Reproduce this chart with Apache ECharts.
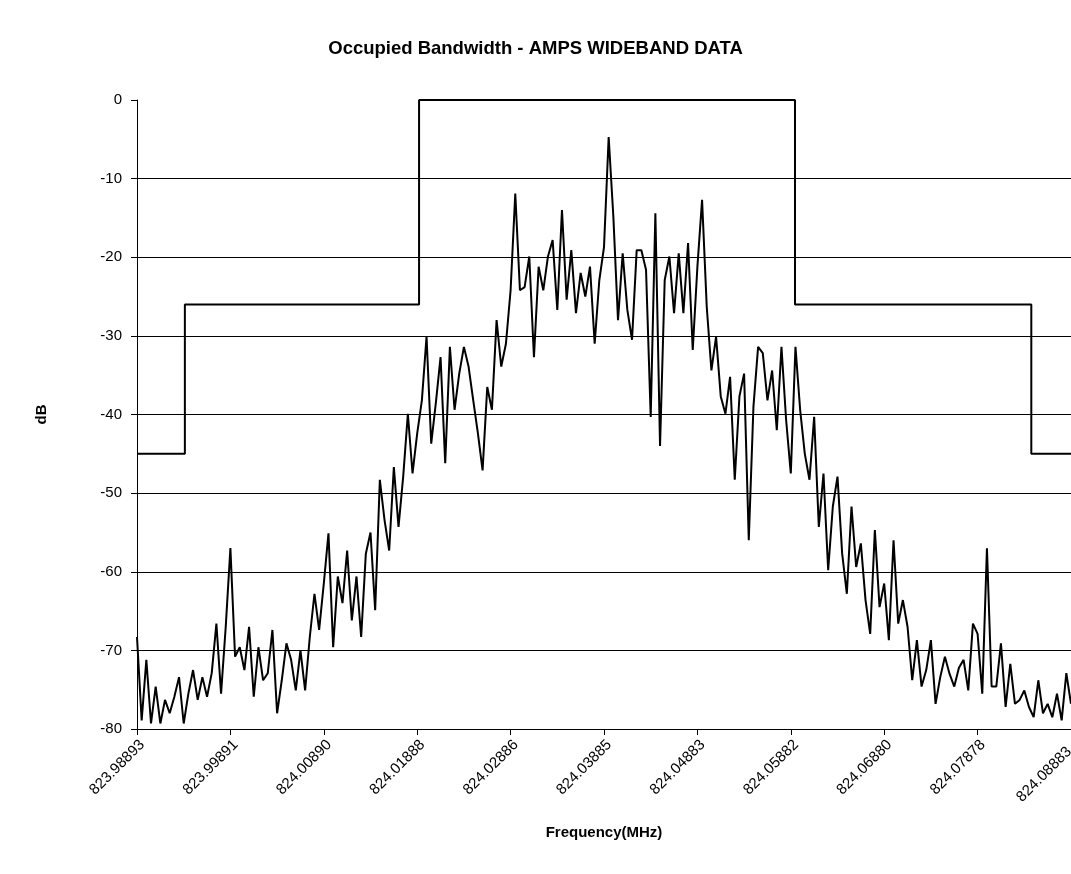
<!DOCTYPE html>
<html>
<head>
<meta charset="utf-8">
<script src="https://cdn.jsdelivr.net/npm/echarts@6/dist/echarts.min.js"></script>
<style>
html,body{margin:0;padding:0;background:#fff;}
#chart{width:1071px;height:874px;}
</style>
</head>
<body>
<div id="chart"></div>
<script>
// Frequency tick labels (every 40 sample points, 401 points total)
const tickLabels = ["823.98893","823.99891","824.00890","824.01888","824.02886","824.03885","824.04883","824.05882","824.06880","824.07878","824.08883"];
const SAMPLE_STEP = 2;   // noise values read every 2 sample points
// Measured spectrum (dB), sample points 0,2,4,...,400
const spectrum = [
 -68.3,-78.9,-71.2,-79.3,-74.6,-79.3,-76.3,-78,-75.9,-73.4,-79.3,-75.5,-72.5,-76.3,-73.4,-75.9,-72.9,
 -66.6,-75.5,-67,-57,-70.8,-69.6,-72.5,-67,-75.9,-69.6,-73.8,-72.9,-67.4,-78,-73.8,-69.1,-71.2,
 -75.1,-70,-75.1,-68.3,-62.8,-67.4,-61.5,-55.1,-69.6,-60.6,-64,-57.3,-66.2,-60.6,-68.3,-57.7,-55,
 -64.9,-48.3,-53.4,-57.3,-46.7,-54.3,-47.9,-39.9,-47.5,-42.4,-38.2,-30.1,-43.7,-38.5,-32.7,-46.2,
 -31.4,-39.4,-34.8,-31.4,-33.9,-38.2,-42.4,-47.1,-36.5,-39.4,-28,-33.9,-31,-24.2,-11.9,-24.2,-23.8,
 -19.9,-32.7,-21.2,-24.2,-19.9,-17.8,-26.7,-14,-25.4,-19.1,-27.1,-22,-25,-21.2,-31,-22.9,-18.7,
 -4.7,-14.8,-28,-19.5,-26.7,-30.5,-19.1,-19.1,-21.6,-40.3,-14.4,-44,-22.9,-19.9,-27.1,-19.5,
 -27.1,-18.2,-31.8,-21.2,-12.7,-26.3,-34.4,-30.1,-37.7,-39.9,-35.2,-48.3,-37.7,-34.8,-56,-39,-31.4,
 -32.2,-38.2,-34.4,-42,-31.4,-40.7,-47.5,-31.4,-39.4,-45,-48.3,-40.3,-54.3,-47.5,-59.8,-51.7,-47.9,
 -57.7,-62.8,-51.7,-59.4,-56.4,-63.6,-67.9,-54.7,-64.5,-61.5,-68.7,-56,-66.6,-63.6,-67,-73.8,-68.7,
 -74.6,-72.5,-68.7,-76.8,-73.4,-70.8,-73,-74.6,-72.2,-71.2,-75.1,-66.6,-67.9,-75.5,-57,-74.6,
 -74.6,-69.1,-77.2,-71.7,-76.8,-76.3,-75.1,-77.2,-78.5,-73.8,-78,-76.8,-78.5,-75.5,-78.9,-72.9,-76.8
];
// Emission mask: breakpoints (sample point) and levels (dB)
const maskPoints = [0, 20.5, 20.5, 120.8, 120.8, 281.8, 281.8, 383, 383, 400];
const maskLevels = [-45, -45, -26, -26, 0, 0, -26, -26, -45, -45];

const chart = echarts.init(document.getElementById('chart'), null, {renderer:'canvas'});
const font = 'Arial, "Liberation Sans", sans-serif';
// gridline colours from -80 up to 0 (no gridline drawn at the top value)
const gridColors = ['#000','#000','#000','#000','#000','#000','#000','#000','rgba(0,0,0,0)'];
chart.setOption({
  animation:false,
  backgroundColor:'#fff',
  title:{
    text:'Occupied Bandwidth - AMPS WIDEBAND DATA',
    left:'center', top:34,
    textStyle:{fontFamily:font,fontSize:18.5,fontWeight:'bold',color:'#000'}
  },
  grid:{left:137,right:0,top:100,bottom:145,containLabel:false,outerBoundsMode:'none'},
  xAxis:{
    type:'value', min:0, max:400, interval:40,
    name:'Frequency(MHz)', nameLocation:'middle', nameGap:96,
    nameTextStyle:{fontFamily:font,fontSize:15,fontWeight:'bold',color:'#000'},
    axisLine:{show:true,onZero:false,lineStyle:{color:'#000',width:1}},
    axisTick:{show:true,length:6,lineStyle:{color:'#000'}},
    splitLine:{show:false},
    axisLabel:{
      rotate:45, margin:8, fontFamily:font, fontSize:15, color:'#000',
      verticalAlign:'top',
      showMinLabel:true, showMaxLabel:true, hideOverlap:false,
      formatter:function(v){
        const i = Math.round(v/40);
        const s = tickLabels[i] || '';
        return i === tickLabels.length-1 ? '{last|'+s+'}' : s;
      },
      rich:{ last:{fontFamily:font,fontSize:15,color:'#000',padding:[0,10,0,0]} }
    }
  },
  yAxis:{
    type:'value', min:-80, max:0, interval:10,
    name:'dB', nameLocation:'middle', nameGap:88, nameRotate:90,
    nameTextStyle:{fontFamily:font,fontSize:15,fontWeight:'bold',color:'#000'},
    axisLine:{show:true,lineStyle:{color:'#000',width:1}},
    axisTick:{show:true,length:6,lineStyle:{color:'#000'}},
    splitLine:{show:true,lineStyle:{color:gridColors,width:1}},
    axisLabel:{margin:15,fontFamily:font,fontSize:15,color:'#000'}
  },
  series:[
    {
      type:'line', symbol:'none', clip:true,
      data: maskPoints.map((x,i)=>[x, maskLevels[i]]),
      lineStyle:{color:'#000',width:2}, z:3
    },
    {
      type:'line', symbol:'none', clip:true,
      data: spectrum.map((v,i)=>[i*SAMPLE_STEP, v]),
      lineStyle:{color:'#000',width:2}, z:4
    }
  ]
});
</script>
</body>
</html>
